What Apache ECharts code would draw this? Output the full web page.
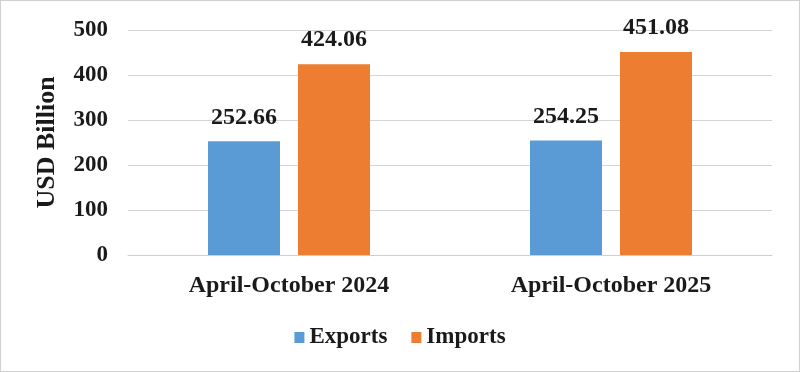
<!DOCTYPE html>
<html><head><meta charset="utf-8">
<script src="https://cdn.jsdelivr.net/npm/echarts@6/dist/echarts.min.js"></script>
<style>html,body{margin:0;padding:0;background:#fff}#c{width:800px;height:372px;box-sizing:border-box;border:1px solid #d0d0d0}</style>
</head><body><div id="c"></div>
<script>
const categories = ['April-October 2024', 'April-October 2025'];
const exportsData = [252.66, 254.25];
const importsData = [424.06, 451.08];
const seriesNames = ['Exports', 'Imports'];
const yTicks = [0, 100, 200, 300, 400, 500];

const font = '"Liberation Serif", "Times New Roman", serif';
const chart = echarts.init(document.getElementById('c'));
const lbl = {show: true, position: 'top', distance: 12, fontFamily: font, fontWeight: 'bold', fontSize: 24, color: '#1a1a1a'};
chart.setOption({
  animation: false,
  textStyle: {fontFamily: font},
  grid: {left: 127, right: 27, top: 29, bottom: 116},
  legend: {
    data: seriesNames, top: 320, left: 'center', itemWidth: 10, itemHeight: 11, itemGap: 24,
    icon: 'rect',
    textStyle: {fontFamily: font, fontWeight: 'bold', fontSize: 23, color: '#1a1a1a'}
  },
  xAxis: {
    type: 'category', data: categories,
    axisLine: {show: true, lineStyle: {color: '#cfcfcf'}}, axisTick: {show: false},
    axisLabel: {fontFamily: font, fontWeight: 'bold', fontSize: 24, color: '#1a1a1a', margin: 19}
  },
  yAxis: {
    type: 'value', min: yTicks[0], max: yTicks[yTicks.length - 1], interval: 100,
    name: 'USD Billion', nameLocation: 'middle', nameGap: 68, nameRotate: 90,
    nameTextStyle: {fontFamily: font, fontWeight: 'bold', fontSize: 26, color: '#1a1a1a'},
    axisLine: {show: false}, axisTick: {show: false},
    axisLabel: {fontFamily: font, fontWeight: 'bold', fontSize: 23, color: '#1a1a1a', margin: 20},
    splitLine: {lineStyle: {color: '#d4d4d4', width: 1}}
  },
  series: [
    {name: seriesNames[0], type: 'bar', data: exportsData, barWidth: 72, barGap: '25%', itemStyle: {color: '#5B9BD5'}, label: lbl},
    {name: seriesNames[1], type: 'bar', data: importsData, barWidth: 72, barGap: '25%', itemStyle: {color: '#ED7D31'}, label: lbl}
  ]
});
</script></body></html>
